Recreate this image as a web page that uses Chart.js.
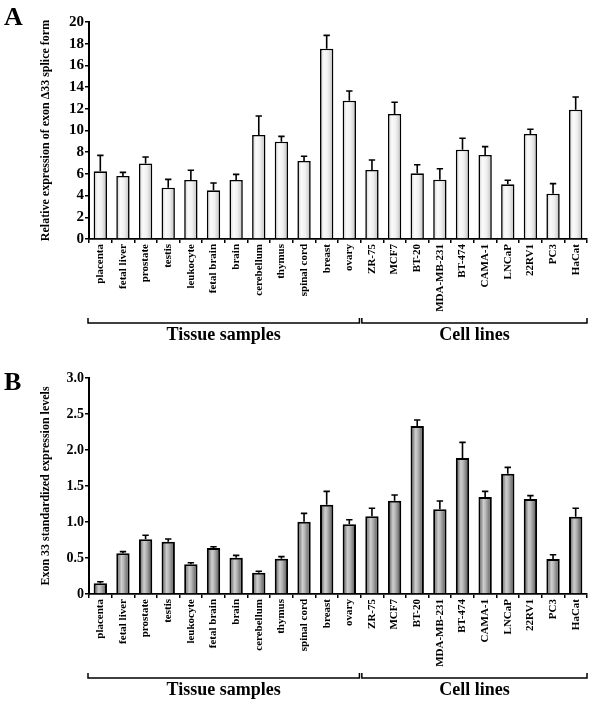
<!DOCTYPE html>
<html>
<head>
<meta charset="utf-8">
<script src="https://cdn.jsdelivr.net/npm/chart.js@4"></script>
<style>
  html,body{margin:0;padding:0;background:#fff;}
  .panel{position:absolute;left:0;width:600px;height:354px;}
</style>
</head>
<body>
<div class="panel" style="top:0"><canvas id="cA" width="600" height="354"></canvas></div>
<div class="panel" style="top:354px"><canvas id="cB" width="600" height="354"></canvas></div>
<script>
const categories = ['placenta','fetal liver','prostate','testis','leukocyte','fetal brain','brain','cerebellum','thymus','spinal cord','breast','ovary',
  'ZR-75','MCF7','BT-20','MDA-MB-231','BT-474','CAMA-1','LNCaP','22RV1','PC3','HaCat'];
const groupNames = ['Tissue samples','Cell lines'];
const groupSizes = [12, 10];

const valuesA = [6.24,5.81,6.97,4.73,5.44,4.49,5.44,9.59,8.97,7.19,17.54,12.75,6.36,11.52,6.05,5.47,8.23,7.74,5.04,9.68,4.18,11.92];
const errorsA = [1.47,0.33,0.59,0.77,0.89,0.67,0.52,1.75,0.49,0.43,1.23,0.89,0.92,1.08,0.80,1.01,1.05,0.77,0.37,0.43,0.92,1.17];
const ticksA = [0,2,4,6,8,10,12,14,16,18,20];

const valuesB = [0.148,0.565,0.759,0.727,0.412,0.639,0.505,0.296,0.491,1.005,1.240,0.968,1.079,1.296,2.333,1.176,1.889,1.347,1.671,1.319,0.486,1.074];
const errorsB = [0.023,0.023,0.056,0.037,0.023,0.018,0.032,0.019,0.028,0.115,0.186,0.064,0.111,0.079,0.084,0.116,0.217,0.079,0.088,0.047,0.060,0.116];
const ticksB = [0,0.5,1.0,1.5,2.0,2.5,3.0];

const SERIF = '"Liberation Serif","Times New Roman",serif';
const BAR_PCT = 0.59;

function gradientFill(stops){
  return function(ctx){
    const chart = ctx.chart;
    if (!chart.chartArea || !chart.scales.x) return stops[1][1];
    const xs = chart.scales.x;
    const c = xs.getPixelForValue(ctx.dataIndex);
    const w = xs.width / categories.length * BAR_PCT;
    const g = chart.ctx.createLinearGradient(c - w/2, 0, c + w/2, 0);
    stops.forEach(s => g.addColorStop(s[0], s[1]));
    return g;
  };
}

const errorBarPlugin = {
  id: 'errbars',
  afterDatasetsDraw(chart, args, opts){
    const meta = chart.getDatasetMeta(0);
    const ys = chart.scales.y;
    const vals = chart.data.datasets[0].data;
    const errs = opts.errors;
    const ctx = chart.ctx;
    ctx.save();
    ctx.strokeStyle = '#000';
    ctx.lineWidth = opts.width;
    meta.data.forEach((el, i) => {
      const y0 = el.y;
      const y1 = ys.getPixelForValue(vals[i] + errs[i]);
      ctx.beginPath();
      ctx.moveTo(el.x, y0);
      ctx.lineTo(el.x, y1);
      ctx.moveTo(el.x - 3.2, y1);
      ctx.lineTo(el.x + 3.2, y1);
      ctx.stroke();
    });
    ctx.restore();
  }
};

const groupPlugin = {
  id: 'groups',
  afterDraw(chart, args, opts){
    const ctx = chart.ctx;
    const xs = chart.scales.x;
    const zeroY = chart.scales.y.getPixelForValue(0);
    const catW = xs.width / categories.length;
    const lineY = zeroY + 84;
    const textY = zeroY + 96;
    ctx.save();
    ctx.strokeStyle = '#000';
    ctx.lineWidth = 1.5;
    ctx.fillStyle = '#000';
    ctx.font = 'bold 18px ' + SERIF;
    ctx.textAlign = 'center';
    ctx.textBaseline = 'middle';
    let start = 0;
    groupSizes.forEach((n, gi) => {
      let x0 = xs.left + start * catW;
      let x1 = xs.left + (start + n) * catW;
      if (gi > 0) x0 += 1.2;
      if (gi < groupSizes.length - 1) x1 -= 1.2;
      if (gi === 0) x0 -= 1;
      ctx.beginPath();
      ctx.moveTo(x0, lineY - 5);
      ctx.lineTo(x0, lineY);
      ctx.lineTo(x1, lineY);
      ctx.lineTo(x1, lineY - 5);
      ctx.stroke();
      ctx.fillText(groupNames[gi], (x0 + x1) / 2, textY);
      start += n;
    });
    // panel letter
    ctx.font = 'bold 26px ' + SERIF;
    ctx.textAlign = 'left';
    ctx.fillText(opts.letter, 4, opts.letterY);
    ctx.restore();
  }
};

function makeChart(id, cfg){
  return new Chart(document.getElementById(id), {
    type: 'bar',
    data: {
      labels: categories,
      datasets: [{
        data: cfg.values,
        backgroundColor: gradientFill(cfg.stops),
        borderColor: '#000',
        borderWidth: cfg.border,
        borderSkipped: 'bottom',
        barPercentage: BAR_PCT,
        categoryPercentage: 1.0
      }]
    },
    options: {
      responsive: false,
      animation: false,
      devicePixelRatio: 1,
      layout: { padding: { left: 0, right: 13, top: cfg.top, bottom: 0 } },
      plugins: {
        legend: { display: false },
        tooltip: { enabled: false },
        errbars: { errors: cfg.errors, width: 1.6 },
        groups: { letter: cfg.letter, letterY: cfg.letterY }
      },
      scales: {
        x: {
          offset: true,
          afterFit(s){ s.height = cfg.xh; },
          border: { display: true, color: '#000', width: 1.8 },
          grid: { offset: true, drawOnChartArea: false, drawTicks: true, tickLength: 4, color: '#000', lineWidth: 1.5 },
          ticks: {
            autoSkip: false, maxRotation: 90, minRotation: 90, padding: 1,
            color: '#000', font: { family: SERIF, size: 11, weight: 'bold' }
          }
        },
        y: {
          min: 0, max: cfg.max,
          afterFit(s){ s.width = 89; },
          afterBuildTicks(s){ s.ticks = cfg.ticks.map(v => ({ value: v })); },
          border: { display: true, color: '#000', width: 2 },
          grid: { drawOnChartArea: false, drawTicks: true, tickLength: 4, color: '#000', lineWidth: 1.5 },
          ticks: {
            padding: 1, color: '#000',
            font: { family: SERIF, size: cfg.tickSize, weight: 'bold' },
            callback: cfg.fmt
          },
          title: {
            display: true, text: cfg.title, color: '#000',
            font: { family: SERIF, size: 12, weight: 'bold' },
            padding: { top: 39, bottom: 0 }
          }
        }
      }
    },
    plugins: [errorBarPlugin, groupPlugin]
  });
}

makeChart('cA', {
  values: valuesA, errors: errorsA, ticks: ticksA, max: 20, top: 22, xh: 115,
  stops: [[0,'#cacaca'],[0.3,'#fbfbfb'],[0.6,'#f0f0f0'],[1,'#bdbdbd']],
  border: 1.6, letter: 'A', letterY: 18, tickSize: 15,
  title: 'Relative expression of exon \u039433 splice form',
  fmt: v => String(v)
});

makeChart('cB', {
  values: valuesB, errors: errorsB, ticks: ticksB, max: 3, top: 24, xh: 114,
  stops: [[0,'#4a4a4a'],[0.38,'#cfcfcf'],[0.55,'#b5b5b5'],[1,'#4a4a4a']],
  border: 2, letter: 'B', letterY: 29, tickSize: 14,
  title: 'Exon 33 standardized expression levels',
  fmt: v => v === 0 ? '0' : v.toFixed(1)
});
</script>
</body>
</html>
